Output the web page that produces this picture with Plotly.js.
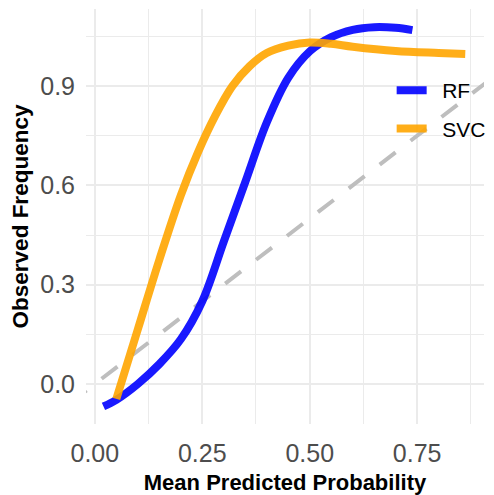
<!DOCTYPE html>
<html>
<head>
<meta charset="utf-8">
<script src="https://cdn.plot.ly/plotly-3.0.1.min.js"></script>
<style>html,body{margin:0;padding:0;background:#fff;}#chart{width:494px;height:495px;}</style>
</head>
<body>
<div id="chart"></div>
<script>
// Reference (perfect calibration) line
var diagX = [-0.2, 1.2];
var diagY = [-0.2, 1.2];

// Random Forest calibration curve
var rfX = [0.02, 0.05, 0.10, 0.15, 0.20, 0.25, 0.30, 0.35, 0.40, 0.45, 0.50, 0.55, 0.60, 0.65, 0.70, 0.739];
var rfY = [-0.068, -0.048, 0.0, 0.06, 0.135, 0.25, 0.43, 0.61, 0.79, 0.925, 1.005, 1.048, 1.07, 1.078, 1.076, 1.069];

// SVC calibration curve
var svcX = [0.05, 0.10, 0.15, 0.20, 0.24, 0.28, 0.32, 0.36, 0.40, 0.45, 0.50, 0.55, 0.60, 0.70, 0.80, 0.862];
var svcY = [-0.045, 0.165, 0.375, 0.57, 0.70, 0.81, 0.90, 0.96, 1.0, 1.022, 1.032, 1.028, 1.019, 1.006, 1.0, 0.997];

var seriesNames = ["RF", "SVC"];

var xTickVals = [0, 0.25, 0.5, 0.75];
var xTickText = ["0.00", "0.25", "0.50", "0.75"];
var yTickVals = [0, 0.3, 0.6, 0.9];
var yTickText = ["0.0", "0.3", "0.6", "0.9"];

var pad = '\u2002';
var traces = [
  {x: diagX, y: diagY, mode: 'lines', showlegend: false, hoverinfo: 'skip',
   line: {color: '#BEBEBE', width: 4, dash: '20px,19px'}},
  {x: rfX, y: rfY, mode: 'lines', name: pad + seriesNames[0], legendgroup: 'a',
   line: {color: 'rgba(0,0,255,0.9)', width: 8, shape: 'spline', smoothing: 1}},
  {x: svcX, y: svcY, mode: 'lines', name: pad + seriesNames[1], legendgroup: 'b',
   line: {color: 'rgba(255,165,0,0.9)', width: 8, shape: 'spline', smoothing: 1}}
];

var gridCol = '#EBEBEB';
var layout = {
  width: 494, height: 495,
  margin: {l: 86, r: 3, t: 9, b: 71},
  paper_bgcolor: '#FFFFFF', plot_bgcolor: '#FFFFFF',
  font: {family: 'Liberation Sans, Arial, sans-serif', color: '#4D4D4D'},
  xaxis: {
    range: [-0.0206, 0.9056], tickmode: 'array', tickvals: xTickVals, ticktext: xTickText,
    showgrid: true, gridcolor: gridCol, gridwidth: 2, zeroline: false, showline: false,
    ticks: '', ticklabelstandoff: 12,
    tickfont: {size: 25, color: '#4D4D4D'},
    minor: {tickmode: 'linear', tick0: 0.125, dtick: 0.25, showgrid: true, gridcolor: gridCol, gridwidth: 1},
    title: {text: 'Mean Predicted Probability', font: {size: 22, color: '#000000', family: 'Liberation Sans, Arial, sans-serif', weight: 'bold'}, standoff: 8}
  },
  yaxis: {
    range: [-0.121, 1.133], tickmode: 'array', tickvals: yTickVals, ticktext: yTickText,
    showgrid: true, gridcolor: gridCol, gridwidth: 2, zeroline: false, showline: false,
    ticks: '', ticklabelstandoff: 10,
    tickfont: {size: 25, color: '#4D4D4D'},
    minor: {tickmode: 'linear', tick0: 0.15, dtick: 0.3, showgrid: true, gridcolor: gridCol, gridwidth: 1},
    title: {text: 'Observed Frequency', font: {size: 22.5, color: '#000000', family: 'Liberation Sans, Arial, sans-serif', weight: 'bold'}, standoff: 5}
  },
  legend: {
    x: 0.768, y: 0.853, xanchor: 'left', yanchor: 'top',
    bgcolor: 'rgba(0,0,0,0)', borderwidth: 0,
    font: {size: 21, color: '#000000', family: 'Liberation Sans, Arial, sans-serif'},
    itemwidth: 30, traceorder: 'grouped', tracegroupgap: 8
  },
  showlegend: true
};

Plotly.newPlot('chart', traces, layout, {displayModeBar: false, staticPlot: true});
</script>
</body>
</html>
